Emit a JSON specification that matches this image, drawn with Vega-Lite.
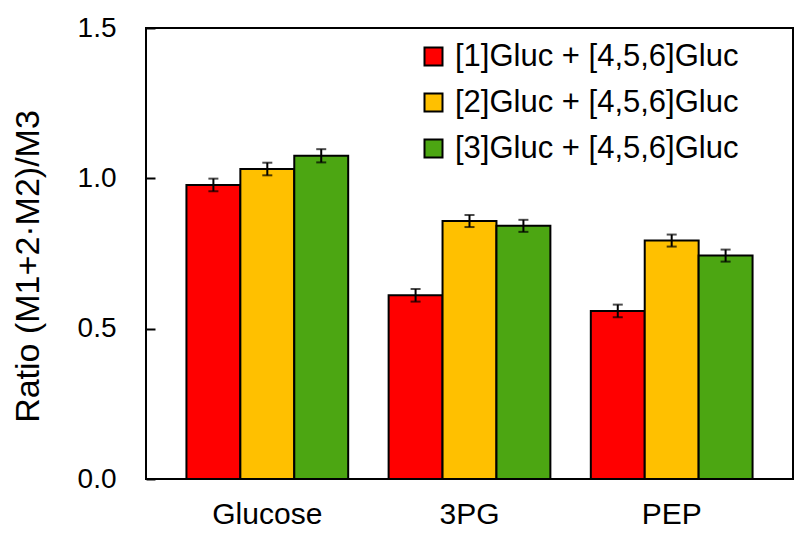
{
  "$schema": "https://vega.github.io/schema/vega-lite/v6.json",
  "width": 647,
  "height": 451,
  "autosize": {"type": "none"},
  "padding": {"left": 146, "top": 28, "right": 7, "bottom": 58},
  "config": {
    "font": "Liberation Sans",
    "view": {"stroke": "black", "strokeWidth": 2},
    "scale": {"bandPaddingInner": 0.2, "bandPaddingOuter": 0.1, "offsetBandPaddingInner": 0, "offsetBandPaddingOuter": 0},
    "axis": {"grid": false, "domain": false, "labelColor": "black", "titleColor": "black", "labelFont": "Liberation Sans", "titleFont": "Liberation Sans"}
  },
  "data": {
    "values": [
      {"metabolite": "Glucose", "series": "[1]Gluc + [4,5,6]Gluc", "value": 0.978, "lo": 0.957, "hi": 0.999},
      {"metabolite": "Glucose", "series": "[2]Gluc + [4,5,6]Gluc", "value": 1.031, "lo": 1.010, "hi": 1.052},
      {"metabolite": "Glucose", "series": "[3]Gluc + [4,5,6]Gluc", "value": 1.075, "lo": 1.053, "hi": 1.097},
      {"metabolite": "3PG", "series": "[1]Gluc + [4,5,6]Gluc", "value": 0.611, "lo": 0.590, "hi": 0.632},
      {"metabolite": "3PG", "series": "[2]Gluc + [4,5,6]Gluc", "value": 0.858, "lo": 0.838, "hi": 0.878},
      {"metabolite": "3PG", "series": "[3]Gluc + [4,5,6]Gluc", "value": 0.842, "lo": 0.822, "hi": 0.862},
      {"metabolite": "PEP", "series": "[1]Gluc + [4,5,6]Gluc", "value": 0.559, "lo": 0.538, "hi": 0.580},
      {"metabolite": "PEP", "series": "[2]Gluc + [4,5,6]Gluc", "value": 0.793, "lo": 0.773, "hi": 0.813},
      {"metabolite": "PEP", "series": "[3]Gluc + [4,5,6]Gluc", "value": 0.743, "lo": 0.723, "hi": 0.763}
    ]
  },
  "encoding": {
    "x": {
      "field": "metabolite", "type": "nominal", "sort": ["Glucose", "3PG", "PEP"],
      "axis": {"title": null, "labelAngle": 0, "ticks": false, "labelFontSize": 30, "labelPadding": 20, "labelBaseline": "top"}
    },
    "xOffset": {"field": "series", "type": "nominal", "sort": ["[1]Gluc + [4,5,6]Gluc", "[2]Gluc + [4,5,6]Gluc", "[3]Gluc + [4,5,6]Gluc"]}
  },
  "layer": [
    {
      "mark": {"type": "bar", "stroke": "black", "strokeWidth": 2, "opacity": 1},
      "encoding": {
        "y": {
          "field": "value", "type": "quantitative",
          "scale": {"domain": [0, 1.5], "nice": false, "zero": true},
          "axis": {"title": "Ratio (M1+2·M2)/M3", "values": [0, 0.5, 1.0, 1.5], "format": ".1f", "ticks": true, "zindex": 1, "offset": -9, "tickSize": 9, "tickWidth": 2, "tickColor": "black", "tickOpacity": 1, "labelFontSize": 28, "labelPadding": 30, "titleFontSize": 34, "titleFontWeight": "normal", "titlePadding": 32, "titleY": 238}
        },
        "color": {
          "field": "series", "type": "nominal",
          "scale": {"domain": ["[1]Gluc + [4,5,6]Gluc", "[2]Gluc + [4,5,6]Gluc", "[3]Gluc + [4,5,6]Gluc"], "range": ["#ff0000", "#ffc000", "#4ca612"]},
          "legend": {
            "title": null, "orient": "none", "legendX": 272, "legendY": 13, "padding": 0,
            "labelFontSize": 31, "labelColor": "black", "labelOffset": 6, "rowPadding": 14, "labelLimit": 0,
            "symbolType": "square", "symbolSize": 324, "symbolStrokeColor": "black", "symbolStrokeWidth": 2, "symbolOpacity": 1
          }
        }
      }
    },
    {
      "mark": {"type": "rule", "color": "black", "strokeWidth": 2},
      "encoding": {
        "y": {"field": "lo", "type": "quantitative"},
        "y2": {"field": "hi"}
      }
    },
    {
      "mark": {"type": "tick", "color": "black", "thickness": 2, "size": 10, "orient": "horizontal"},
      "encoding": {"y": {"field": "lo", "type": "quantitative"}}
    },
    {
      "mark": {"type": "tick", "color": "black", "thickness": 2, "size": 10, "orient": "horizontal"},
      "encoding": {"y": {"field": "hi", "type": "quantitative"}}
    }
  ]
}
